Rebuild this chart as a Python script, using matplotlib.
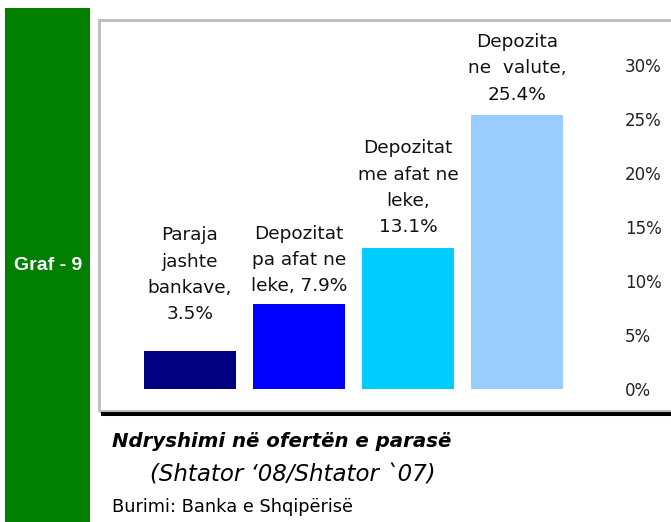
import matplotlib
matplotlib.use("Agg")
import matplotlib.pyplot as plt
from matplotlib.patches import Rectangle
from matplotlib.lines import Line2D

# te dhenat
categories = ["Paraja\njashte\nbankave,\n", "Depozitat\npa afat ne\nleke, ", "Depozitat\nme afat ne\nleke,\n", "Depozita\nne  valute,\n"]
values = [3.5, 7.9, 13.1, 25.4]
colors = ["#000080", "#0000ff", "#00ccff", "#99ccff"]
yticks = [0, 5, 10, 15, 20, 25, 30]
title = "Ndryshimi në ofertën e parasë"
subtitle = "(Shtator \u201808/Shtator `07)"
source = "Burimi: Banka e Shqipërisë"

plt.rcParams["font.family"] = ["DejaVu Sans"]

W, H = 671, 522
fig = plt.figure(figsize=(W / 100, H / 100), dpi=100)

def fx(px):
    return px / W

def fy(py):
    return 1 - py / H

# shiriti jeshil majtas
fig.patches.append(Rectangle((fx(5), 0), fx(85), fy(8), transform=fig.transFigure,
                             facecolor="#007f00", edgecolor="none", zorder=0))
fig.text(fx(48.5), fy(265), "Graf - 9", color="white", fontsize=14, fontweight="bold",
         family="Liberation Sans", ha="center", va="center")

# korniza gri
fig.patches.append(Rectangle((fx(98.5), fy(410.5)), fx(600), fy(19.5) - fy(410.5),
                             transform=fig.transFigure, facecolor="none",
                             edgecolor="#c0c0c0", linewidth=2.2, zorder=1))
fig.lines.append(Line2D([fx(103), fx(671)], [fy(414), fy(414)], transform=fig.transFigure,
                        color="black", linewidth=2.9))

ax = fig.add_axes([fx(97), fy(389), fx(615) - fx(97), fy(65) - fy(389)])
ax.set_facecolor("none")
x = list(range(len(values)))
bars = ax.bar(x, values, width=0.844, color=colors)
ax.set_xlim(-0.853, 3.899)
ax.set_ylim(0, 30)

gaps = [20, 6, 8, 8]
for xi, v, c, g in zip(x, values, categories, gaps):
    ax.annotate(c + str(v) + "%", (xi, v), xytext=(0, g), textcoords="offset points",
                ha="center", va="bottom", fontsize=13.3, color="#111111",
                linespacing=1.6, annotation_clip=False)

ax.yaxis.tick_right()
ax.set_yticks(yticks)
ax.set_yticklabels([str(t) + "%" for t in yticks], fontsize=12, color="#222222")
ax.tick_params(axis="y", length=0, pad=7)
ax.set_xticks([])
for s in ax.spines.values():
    s.set_visible(False)

fig.text(fx(112), fy(447), title, fontsize=14.2, style="italic", fontweight="bold",
         ha="left", va="baseline")
fig.text(fx(150), fy(482), subtitle, fontsize=16.5, style="italic", ha="left", va="baseline")
fig.text(fx(112), fy(512), source, fontsize=12.8, ha="left", va="baseline")

fig.savefig("out.png", dpi=100)
